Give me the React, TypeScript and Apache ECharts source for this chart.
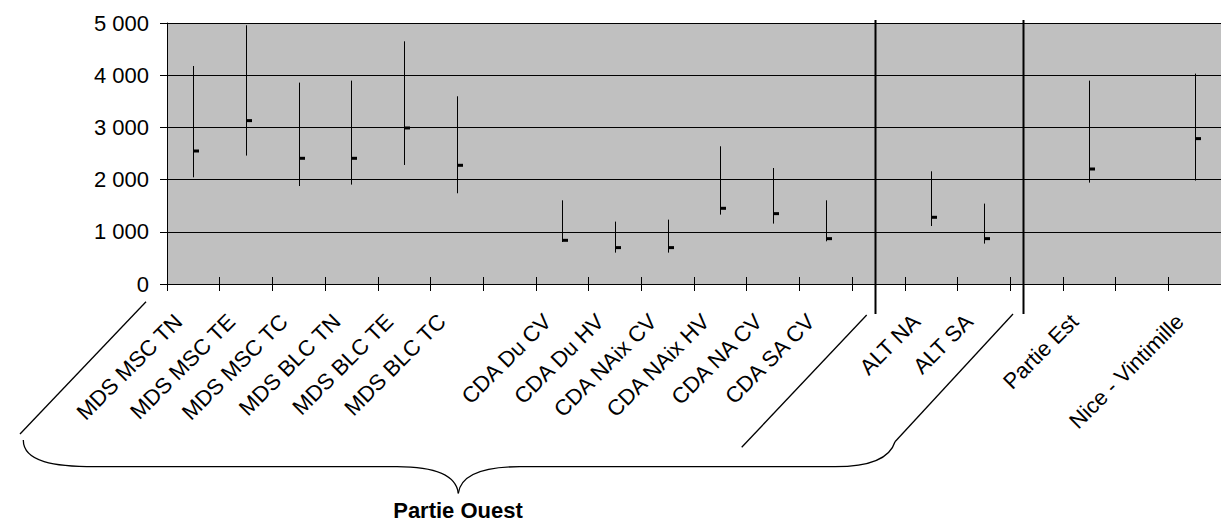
import React, { useEffect, useRef } from "react";
import * as echarts from "echarts";

const categories: string[] = [
  "MDS MSC TN", "MDS MSC TE", "MDS MSC TC", "MDS BLC TN", "MDS BLC TE", "MDS BLC TC", "",
  "CDA Du CV", "CDA Du HV", "CDA NAix CV", "CDA NAix HV", "CDA NA CV", "CDA SA CV", "",
  "ALT NA", "ALT SA", "", "Partie Est", "", "Nice - Vintimille",
];
const highs: (number | null)[] = [4176, 4956, 3858, 3896, 4649, 3596, null, 1603, 1195, 1233, 2638, 2222, 1603, null, 2159, 1540, null, 3896, null, 4030];
const lows: (number | null)[] = [2044, 2460, 1877, 1904, 2280, 1738, null, 805, 601, 601, 1329, 1157, 818, null, 1111, 774, null, 1942, null, 1981];
const closes: (number | null)[] = [2548, 3130, 2408, 2408, 2989, 2274, null, 837, 697, 697, 1450, 1348, 869, null, 1278, 869, null, 2203, null, 2785];
const yMin = 0;
const yMax = 5000;
const yStep = 1000;
const groupLabel = "Partie Ouest";

const FONT = "'Liberation Sans', Arial, sans-serif";

function fmt(v: number): string {
  return String(v).replace(/\B(?=(\d{3})+(?!\d))/g, " ");
}

export default function App() {
  const ref = useRef<HTMLDivElement>(null);
  useEffect(() => {
    if (!ref.current) return;
    const chart = echarts.init(ref.current, undefined, { renderer: "svg" });
    const data: number[][] = [];
    categories.forEach((_, i) => {
      const h = highs[i], l = lows[i], c = closes[i];
      if (h != null && l != null && c != null) data.push([i, l, h, c]);
    });
    const stroke = { stroke: "#000", lineWidth: 1.3, fill: "none" };
    chart.setOption({
      animation: false,
      grid: { left: 167, top: 23, right: -3, bottom: 241, show: true, backgroundColor: "#C0C0C0", borderWidth: 0 },
      xAxis: [
        {
          type: "category",
          data: categories,
          boundaryGap: true,
          position: "bottom",
          axisLine: { show: true, lineStyle: { color: "#000", width: 1 } },
          axisTick: { show: true, interval: 0, length: 7, lineStyle: { color: "#000" } },
          axisLabel: {
            interval: 0, rotate: 45, fontSize: 22, fontFamily: FONT, color: "#000",
            margin: 19, padding: [0, 21, 0, 0],
          },
          splitLine: { show: false },
        },
        {
          type: "category",
          data: categories,
          boundaryGap: true,
          position: "bottom",
          offset: 0,
          axisLine: { show: false },
          axisTick: { show: true, inside: true, interval: 0, length: 7, lineStyle: { color: "#000" } },
          axisLabel: { show: false },
          splitLine: { show: false },
        },
      ],
      yAxis: [
        {
          type: "value", min: yMin, max: yMax, interval: yStep, position: "left",
          axisLine: { show: true, lineStyle: { color: "#000", width: 1 } },
          axisTick: { show: true, length: 7, lineStyle: { color: "#000" } },
          axisLabel: { fontSize: 22, fontFamily: FONT, color: "#000", margin: 18, formatter: (v: number) => fmt(v) },
          splitLine: { show: true, lineStyle: { color: "#000", width: 1 } },
        },
        {
          type: "value", min: yMin, max: yMax, interval: yStep, position: "left", offset: 0,
          axisLine: { show: false },
          axisTick: { show: true, inside: true, length: 8, lineStyle: { color: "#000" } },
          axisLabel: { show: false },
          splitLine: { show: false },
        },
      ],
      series: [
        {
          type: "custom",
          xAxisIndex: 0,
          yAxisIndex: 0,
          data,
          encode: { x: 0, y: [1, 2, 3] },
          renderItem: (_params: any, api: any) => {
            const i = api.value(0);
            const lo = api.coord([i, api.value(1)]);
            const hi = api.coord([i, api.value(2)]);
            const cl = api.coord([i, api.value(3)]);
            const x = Math.round(lo[0]) + 0.5;
            return {
              type: "group",
              children: [
                { type: "line", shape: { x1: x, y1: lo[1], x2: x, y2: hi[1] }, style: { stroke: "#000", lineWidth: 1 } },
                { type: "rect", shape: { x: x - 0.5, y: cl[1] - 1.5, width: 6, height: 3 }, style: { fill: "#000" } },
              ],
            };
          },
        },
      ],
      graphic: [
        { type: "line", shape: { x1: 875.5, y1: 20, x2: 875.5, y2: 314 }, style: { stroke: "#000", lineWidth: 2 }, z: 10 },
        { type: "line", shape: { x1: 1023.5, y1: 20, x2: 1023.5, y2: 314 }, style: { stroke: "#000", lineWidth: 2 }, z: 10 },
        { type: "line", shape: { x1: 146, y1: 301.7, x2: 20, y2: 434 }, style: stroke, z: 10 },
        { type: "line", shape: { x1: 866.7, y1: 315, x2: 741.7, y2: 447.3 }, style: stroke, z: 10 },
        { type: "line", shape: { x1: 1013, y1: 314, x2: 895, y2: 441.7 }, style: stroke, z: 10 },
        { type: "bezierCurve", shape: { x1: 23.3, y1: 440, cpx1: 23.3, cpy1: 462, cpx2: 55, cpy2: 466.7, x2: 95, y2: 466.7 }, style: stroke, z: 10 },
        { type: "line", shape: { x1: 95, y1: 466.7, x2: 397, y2: 466.7 }, style: stroke, z: 10 },
        { type: "bezierCurve", shape: { x1: 397, y1: 466.7, cpx1: 432, cpy1: 466.7, cpx2: 456, cpy2: 474, x2: 458.3, y2: 493.3 }, style: stroke, z: 10 },
        { type: "bezierCurve", shape: { x1: 458.3, y1: 493.3, cpx1: 461, cpy1: 474, cpx2: 485, cpy2: 466.7, x2: 520, y2: 466.7 }, style: stroke, z: 10 },
        { type: "line", shape: { x1: 520, y1: 466.7, x2: 835, y2: 466.7 }, style: stroke, z: 10 },
        { type: "bezierCurve", shape: { x1: 835, y1: 466.7, cpx1: 872, cpy1: 466.7, cpx2: 890, cpy2: 458, x2: 895, y2: 441.7 }, style: stroke, z: 10 },
        {
          type: "text", x: 458, y: 510, z: 10,
          style: { text: groupLabel, fontSize: 22, fontWeight: "bold", fontFamily: FONT, fill: "#000", align: "center", verticalAlign: "middle" },
        },
      ],
    });
    return () => chart.dispose();
  }, []);
  return <div ref={ref} style={{ position: "absolute", left: 0, top: 0, width: 1221, height: 525 }} />;
}
